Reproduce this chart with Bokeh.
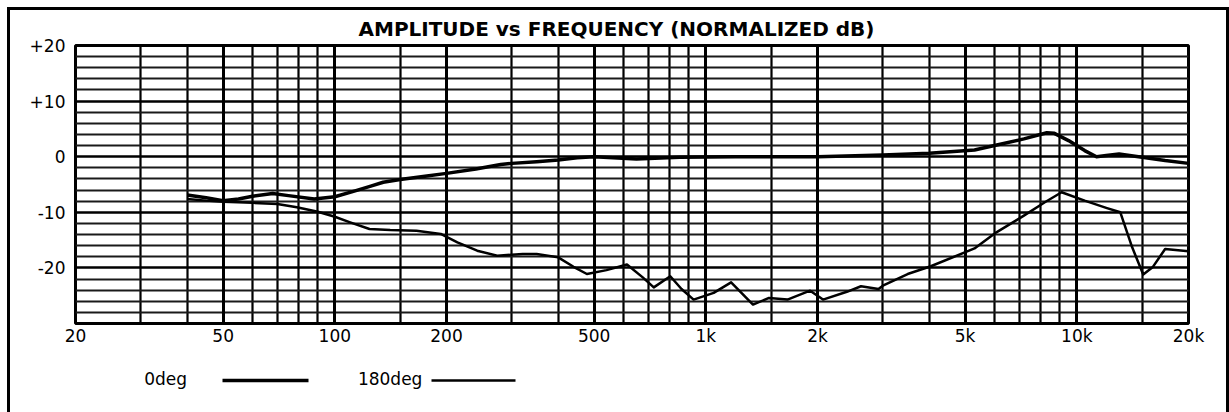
from bokeh.plotting import figure
from bokeh.models import FixedTicker, Grid, LogAxis
from bokeh.embed import file_html
from bokeh.resources import INLINE

# ---- data ----
freq_0deg = [40, 45, 50, 55, 60, 68, 75, 88, 100, 114, 125, 135, 150, 175, 200,
             240, 280, 300, 350, 400, 450, 500, 650, 850, 1200, 2000, 3000, 4000,
             5300, 6000, 7200, 8300, 8700, 9500, 10500, 11300, 12000, 13000,
             15000, 17300, 20000]
db_0deg = [-6.9, -7.4, -7.9, -7.6, -7.1, -6.6, -7.0, -7.6, -7.2, -6.1, -5.3, -4.6,
           -4.1, -3.5, -3.0, -2.2, -1.4, -1.2, -0.9, -0.6, -0.2, 0.0, -0.4, -0.1,
           0.0, 0.0, 0.3, 0.6, 1.2, 2.0, 3.2, 4.3, 4.2, 2.9, 1.1, 0.0, 0.2, 0.5,
           -0.1, -0.7, -1.2]

freq_180deg = [40, 45, 50, 60, 70, 79, 90, 100, 110, 124, 141, 166, 193, 214, 242,
               274, 321, 350, 400, 440, 478, 540, 613, 676, 724, 802, 860, 927,
               1050, 1170, 1340, 1480, 1660, 1910, 2070, 2400, 2620, 2920, 3000,
               3500, 4040, 5300, 6070, 7200, 8200, 9100, 10500, 12000, 13100,
               14100, 15100, 16000, 17300, 20000]
db_180deg = [-7.6, -7.9, -8.1, -8.3, -8.5, -9.1, -9.9, -10.8, -11.8, -13.0, -13.2,
             -13.3, -13.9, -15.4, -16.9, -17.8, -17.5, -17.5, -18.1, -19.8, -21.1,
             -20.4, -19.4, -21.7, -23.5, -21.5, -23.8, -25.7, -24.5, -22.6, -26.6,
             -25.4, -25.7, -24.1, -25.7, -24.3, -23.3, -23.8, -23.2, -21.1, -19.7,
             -16.5, -13.6, -10.6, -8.2, -6.4, -7.9, -9.2, -10.0, -16.3, -21.2,
             -19.9, -16.6, -17.0]

series_names = ["0deg", "180deg"]
title_text = "AMPLITUDE vs FREQUENCY (NORMALIZED dB)"

x_ticks = [20, 50, 100, 200, 500, 1000, 2000, 5000, 10000, 20000]
x_tick_labels = ["20", "50", "100", "200", "500", "1k", "2k", "5k", "10k", "20k"]
y_ticks = [-20, -10, 0, 10, 20]
y_tick_labels = ["-20", "-10", "0", "+10", "+20"]

x_grid_major = [50, 100, 200, 500, 1000, 2000, 5000, 10000]
x_grid_minor = [30, 40, 60, 70, 80, 90, 150, 300, 400, 600, 700, 800, 900,
                1500, 3000, 4000, 6000, 7000, 8000, 9000, 15000]
y_grid_major = [-20, -10, 0, 10]
y_grid_minor = [-28, -26, -24, -22, -18, -16, -14, -12, -8, -6, -4, -2,
                2, 4, 6, 8, 12, 14, 16, 18]

FONT = "DejaVu Sans"
W0, W180 = 3.5, 2.5          # line widths of the two series

p = figure(x_axis_type="log", x_range=(20, 20000), y_range=(-30, 20),
           frame_width=1113, frame_height=278,
           min_border_left=65, min_border_right=38, min_border_top=35,
           min_border_bottom=89,
           output_backend="svg", toolbar_location=None, title=title_text)

# outer frame of the sheet (its bottom edge lies below the window)
p.styles = {"border-top": "3px solid black", "border-left": "3px solid black",
            "border-right": "3px solid black", "margin-left": "7px",
            "margin-top": "7px"}

p.title.align = "left"
p.title.offset = 283
p.title.standoff = 9
p.title.text_font = FONT
p.title.text_font_style = "bold"
p.title.text_font_size = "20px"
p.title.text_color = "black"

p.outline_line_color = "black"
p.outline_line_width = 3
p.background_fill_color = "white"
p.border_fill_color = "white"


def style_axis(ax):
    ax.axis_line_color = None
    ax.major_tick_line_color = None
    ax.minor_tick_line_color = None
    ax.major_tick_out = 0
    ax.major_tick_in = 0
    ax.minor_tick_out = 0
    ax.minor_tick_in = 0
    ax.major_label_text_font = FONT
    ax.major_label_text_font_size = "17px"
    ax.major_label_text_color = "black"


style_axis(p.xaxis[0])
style_axis(p.yaxis[0])
p.xaxis.ticker = FixedTicker(ticks=x_ticks)
p.xaxis.major_label_overrides = {t: l for t, l in zip(x_ticks, x_tick_labels)}
p.xaxis.major_label_standoff = 2
p.yaxis.ticker = FixedTicker(ticks=y_ticks)
p.yaxis.major_label_overrides = {t: l for t, l in zip(y_ticks, y_tick_labels)}
p.yaxis.major_label_standoff = 10

# grids
p.xgrid.ticker = FixedTicker(ticks=x_grid_minor)
p.xgrid.grid_line_color = "black"
p.xgrid.grid_line_width = 2.2
p.ygrid.ticker = FixedTicker(ticks=y_grid_minor)
p.ygrid.grid_line_color = "#1a1a1a"
p.ygrid.grid_line_width = 1.8
p.add_layout(Grid(dimension=0, ticker=FixedTicker(ticks=x_grid_major),
                  grid_line_color="black", grid_line_width=3))
p.add_layout(Grid(dimension=1, ticker=FixedTicker(ticks=y_grid_major),
                  grid_line_color="black", grid_line_width=2.6))

p.line(freq_0deg, db_0deg, line_color="black", line_width=W0, line_join="round")
p.line(freq_180deg, db_180deg, line_color="black", line_width=W180,
       line_join="round")

# ---- key under the chart: "name  ———" for each series ----
# blank spacer panel between the frequency labels and the key
spacer = LogAxis(ticker=FixedTicker(ticks=[1000]), major_label_standoff=0,
                 major_label_overrides={1000: " "})
style_axis(spacer)
spacer.major_tick_line_color = "white"
spacer.major_tick_out = 32
spacer.major_label_text_font_size = "1px"
spacer.major_label_text_alpha = 0
p.add_layout(spacer, "below")

# line samples (axis lines limited to a short span of the scale)
for span, width in (((49.8, 85), W0), ((182, 307), W180)):
    sample = LogAxis(ticker=FixedTicker(ticks=[]), bounds=span,
                     major_label_standoff=0)
    style_axis(sample)
    sample.axis_line_color = "black"
    sample.axis_line_width = width
    p.add_layout(sample, "below")

# series names, left of their samples
name_pos = [35, 141]
names_axis = LogAxis(ticker=FixedTicker(ticks=name_pos),
                     major_label_overrides={t: n for t, n in zip(name_pos, series_names)},
                     major_label_standoff=-12)
style_axis(names_axis)
p.add_layout(names_axis, "below")

open("out.html", "w").write(file_html(p, INLINE))
